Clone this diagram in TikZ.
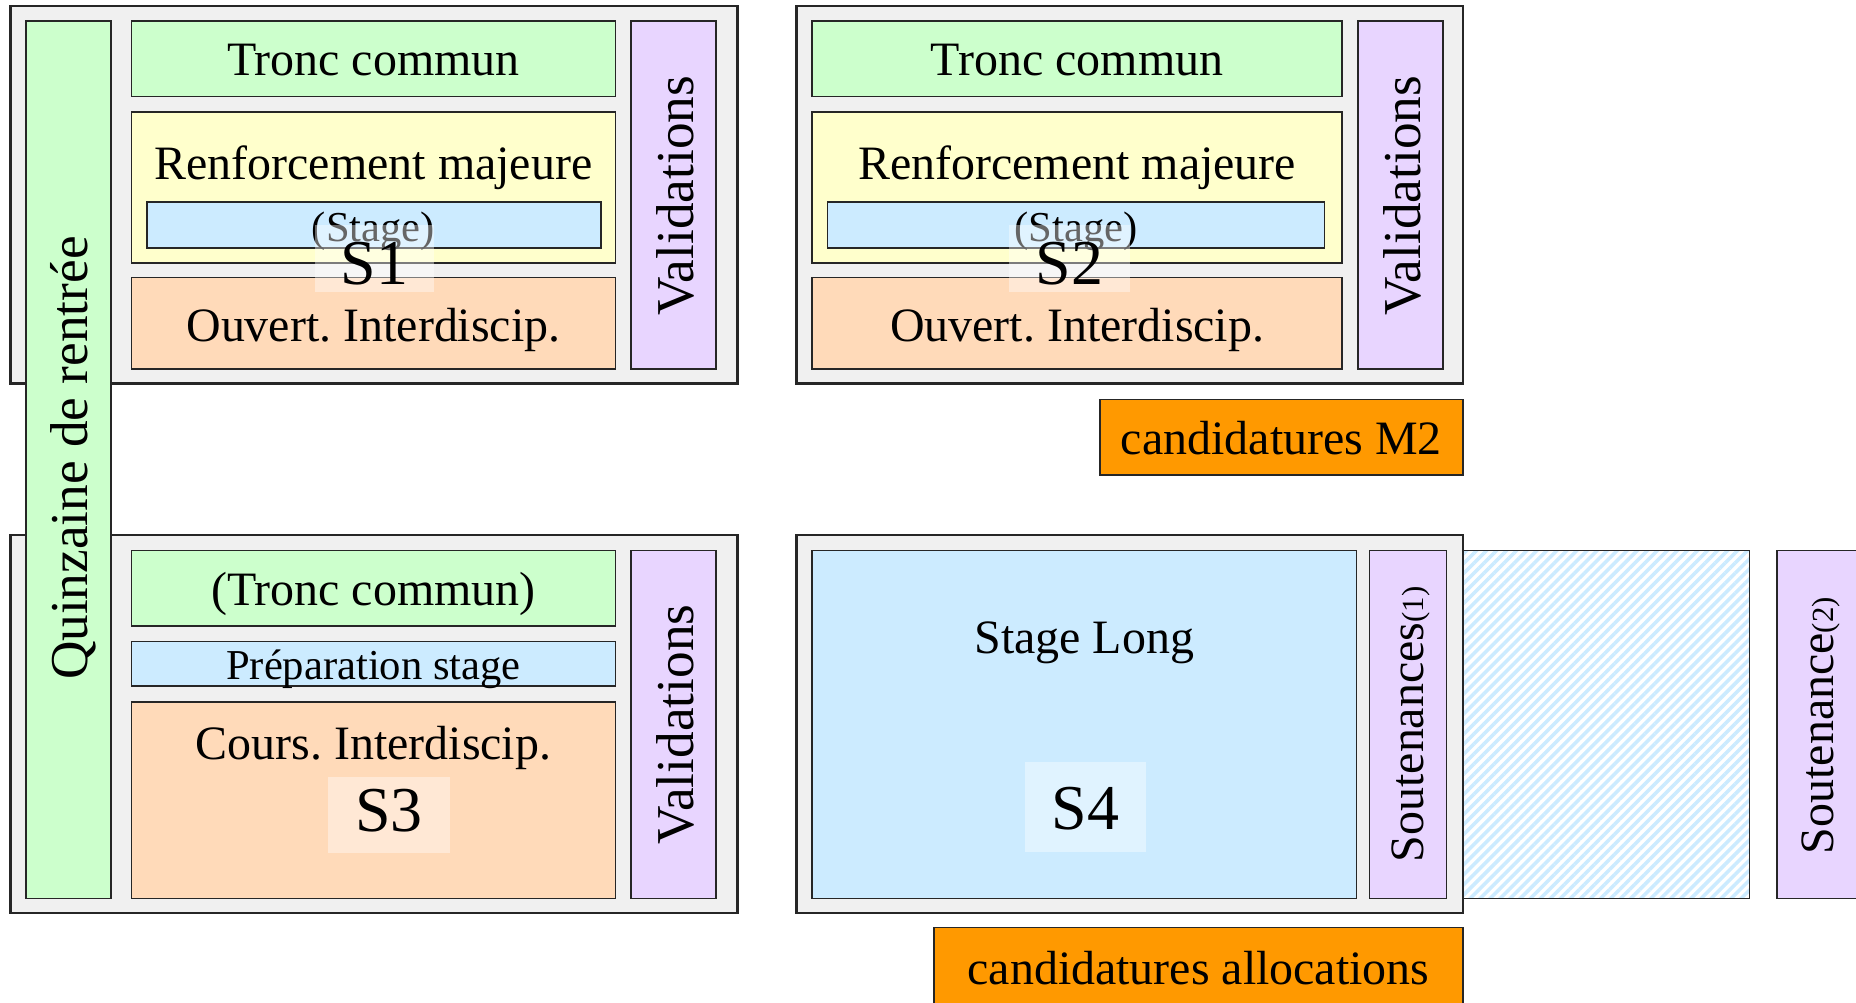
\documentclass[tikz,border=0pt]{standalone}
\usepackage{fontspec}
\setmainfont{Liberation Serif}
\usetikzlibrary{fit,patterns.meta}
\frenchspacing

\definecolor{fond}{HTML}{F0F0F0}
\definecolor{vert}{HTML}{CCFFCC}
\definecolor{jaune}{HTML}{FFFFCC}
\definecolor{bleu}{HTML}{CCEBFF}
\definecolor{peche}{HTML}{FFDAB9}
\definecolor{mauve}{HTML}{E8D5FF}
\definecolor{candor}{HTML}{FF9900}

\tikzset{
  semestre/.style={draw=black!85, line width=2pt, fill=fond, inner sep=0pt},
  bloc/.style={draw=black!85, line width=1.5pt, inner sep=0pt},
  txt/.style={inner sep=0pt, font=\fontsize{40.5}{48}\selectfont},
  petit/.style={inner sep=0pt, font=\fontsize{36}{42}\selectfont},
  vtxt/.style={inner sep=0pt, rotate=90, font=\fontsize{45}{52}\selectfont},
  sfond/.style={fill=white, fill opacity=0.4, inner sep=0pt},
  snum/.style={inner sep=0pt, font=\fontsize{54}{60}\selectfont},
}
\newcommand\indice[1]{{\fontsize{26}{30}\selectfont(#1)}}

\begin{document}
\begin{tikzpicture}[x=1pt, y=-1pt]
  \useasboundingbox (0,0) rectangle (1568,847);

  % semestre 1
  \node[semestre, fit={(9,5)(623,324)}] (sem1) {};
  \node[bloc, fill=vert,  fit={(111,17.5)(520,81.5)}] (tc1) {};
  \node[bloc, fill=jaune, fit={(111,94.5)(520,222.5)}] (rm1) {};
  \node[bloc, fill=bleu,  fit={(124,170.5)(508,209.5)}] (st1) {};
  \node[bloc, fill=peche, fit={(111,234.5)(520,311.5)}] (oi1) {};
  \node[bloc, fill=mauve, fit={(533,17.5)(605,311.5)}] (va1) {};
  \node[txt] (tc1t) at (315.5,50.5) {Tronc commun};
  \node[txt] (rm1t) at (315.5,142) {Renforcement majeure};
  \node[petit] (st1t) at (315.5,195) {(Stage)};
  \node[txt] (oi1t) at (315.5,278.5) {Ouvert. Interdiscip.};
  \node[vtxt] (va1t) at (571,165.5) {Validations};
  \node[sfond, minimum width=101pt, minimum height=57pt] (s1f) at (316.5,218.5) {};
  \node[snum] (s1) at (316.5,222.5) {S1};

  % semestre 2
  \node[semestre, fit={(673,5)(1236,324)}] (sem2) {};
  \node[bloc, fill=vert,  fit={(686,17.5)(1134,81.5)}] (tc2) {};
  \node[bloc, fill=jaune, fit={(686,94.5)(1134,222.5)}] (rm2) {};
  \node[bloc, fill=bleu,  fit={(699,170.5)(1119,209.5)}] (st2) {};
  \node[bloc, fill=peche, fit={(686,234.5)(1134,311.5)}] (oi2) {};
  \node[bloc, fill=mauve, fit={(1147,17.5)(1219,311.5)}] (va2) {};
  \node[txt] (tc2t) at (910,50.5) {Tronc commun};
  \node[txt] (rm2t) at (910,142) {Renforcement majeure};
  \node[petit] (st2t) at (909,195) {(Stage)};
  \node[txt] (oi2t) at (910,278.5) {Ouvert. Interdiscip.};
  \node[vtxt] (va2t) at (1185,165.5) {Validations};
  \node[sfond, minimum width=103pt, minimum height=57pt] (s2f) at (903.5,218.5) {};
  \node[snum] (s2) at (903.5,222.5) {S2};
  \node[bloc, fill=candor, fit={(929,337.5)(1236,401.5)}] (cm2) {};
  \node[txt] (cm2t) at (1082.5,370) {candidatures M2};

  % semestre 3
  \node[semestre, fit={(9,452)(623,771.5)}] (sem3) {};
  \node[bloc, fill=vert,  fit={(111,465)(520,529)}] (tc3) {};
  \node[bloc, fill=bleu,  fit={(111,542)(520,579.5)}] (ps3) {};
  \node[bloc, fill=peche, fit={(111,593)(520,759)}] (ci3) {};
  \node[bloc, fill=mauve, fit={(533,465)(605,759)}] (va3) {};
  \node[txt] (tc3t) at (315.5,501.5) {(Tronc commun)};
  \node[petit] (ps3t) at (315.5,565) {Préparation stage};
  \node[txt] (ci3t) at (315.5,632) {Cours. Interdiscip.};
  \node[vtxt] (va3t) at (571,612) {Validations};
  \node[sfond, minimum width=103pt, minimum height=65pt] (s3f) at (328.5,688.5) {};
  \node[snum] (s3) at (328.5,685) {S3};

  % quinzaine, par-dessus S1 et S3
  \node[bloc, fill=vert, fit={(22,17.5)(94,759)}] (qr) {};
  \node[vtxt] (qrt) at (62,387) {Quinzaine de rentrée};

  % semestre 4
  \node[semestre, fit={(673,452)(1236,771.5)}] (sem4) {};
  \node[bloc, fill=bleu,  fit={(686,465)(1146,759)}] (sl4) {};
  \node[bloc, fill=mauve, fit={(1157,465)(1222,759)}] (so1) {};
  \node[bloc, fill=white, pattern={Lines[angle=45,distance=6pt,line width=3pt]},
        pattern color=bleu, fit={(1236,465)(1478,759)}] (hach) {};
  \node[bloc, fill=mauve, fit={(1501,465)(1580,759)}] (so2) {};
  \node[txt] (sl4t) at (916,543) {Stage Long};
  \node[txt, rotate=90] (so1t) at (1192,612) {Soutenances\indice{1}};
  \node[txt, rotate=90] (so2t) at (1538,613) {Soutenance\indice{2}};
  \node[sfond, minimum width=102pt, minimum height=76pt] (s4f) at (917,682) {};
  \node[snum] (s4) at (917,683.5) {S4};
  \node[bloc, fill=candor, fit={(789,783.5)(1236,870)}] (ca) {};
  \node[txt] (cat) at (1012.5,818) {candidatures allocations};
\end{tikzpicture}
\end{document}
